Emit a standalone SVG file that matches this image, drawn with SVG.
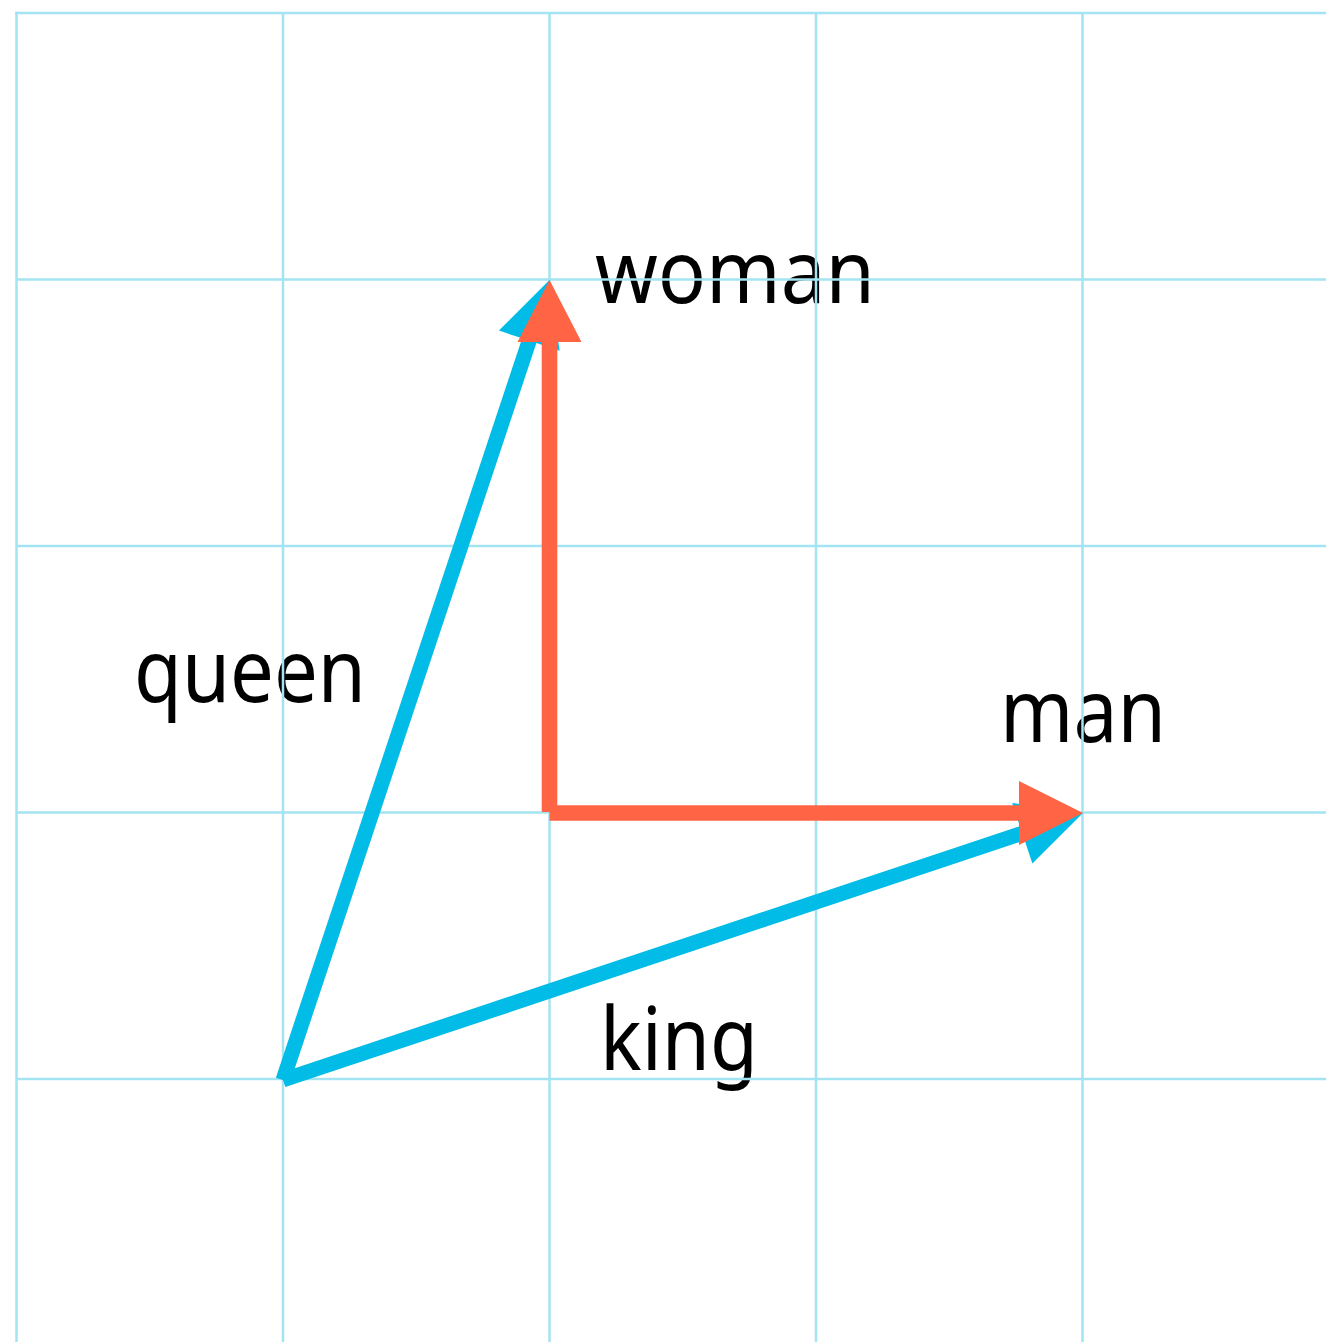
<svg xmlns="http://www.w3.org/2000/svg" width="1326" height="1342" viewBox="0 0 1326 1342">
<style>
.lbl{font-family:"Noto Sans","Open Sans","DejaVu Sans",sans-serif;font-size:88px;fill:#000}
.grid line{stroke:#a3e4f2;stroke-width:2.5}
.cyan{fill:#00bce6}
.orange{fill:#ff6445}
</style>
<rect width="1326" height="1342" fill="#fff"/>
<g id="labels">
<text id="woman" class="lbl" x="595" y="303" textLength="280" lengthAdjust="spacingAndGlyphs">woman</text>
<text id="queen" class="lbl" x="134" y="702" textLength="232" lengthAdjust="spacingAndGlyphs">queen</text>
<text id="man" class="lbl" x="1000" y="742" textLength="166" lengthAdjust="spacingAndGlyphs">man</text>
<text id="king" class="lbl" x="600" y="1070" textLength="158" lengthAdjust="spacingAndGlyphs">king</text>
</g>
<g class="grid">
<line x1="16.5" y1="11.75" x2="16.5" y2="1342"/>
<line x1="283" y1="13" x2="283" y2="1342"/>
<line x1="549.5" y1="13" x2="549.5" y2="1342"/>
<line x1="816" y1="13" x2="816" y2="1342"/>
<line x1="1082.5" y1="13" x2="1082.5" y2="1342"/>
<line x1="15.25" y1="13" x2="1326" y2="13"/>
<line x1="16.5" y1="279.5" x2="1326" y2="279.5"/>
<line x1="16.5" y1="546" x2="1326" y2="546"/>
<line x1="16.5" y1="812.5" x2="1326" y2="812.5"/>
<line x1="16.5" y1="1079" x2="1326" y2="1079"/>
</g>
<g id="connectors">
<polygon id="queen-arrow" class="cyan" points="275.88,1077.63 522.16,338.35 498.92,330.61 549.5,280 559.64,350.83 536.40,343.09 290.12,1082.37"/>
<polygon id="king-arrow" class="cyan" points="280.63,1072.89 1019.92,826.15 1012.16,802.90 1083,813 1032.42,863.62 1024.66,840.37 285.37,1087.11"/>
<polygon id="woman-arrow" class="orange" points="541.7,812 541.7,342 517.5,342 549.5,280 581.5,342 557.3,342 557.3,812"/>
<polygon id="man-arrow" class="orange" points="549.5,805.2 1019,805.2 1019,781 1083,813 1019,845 1019,820.8 549.5,820.8"/>
</g>
</svg>
